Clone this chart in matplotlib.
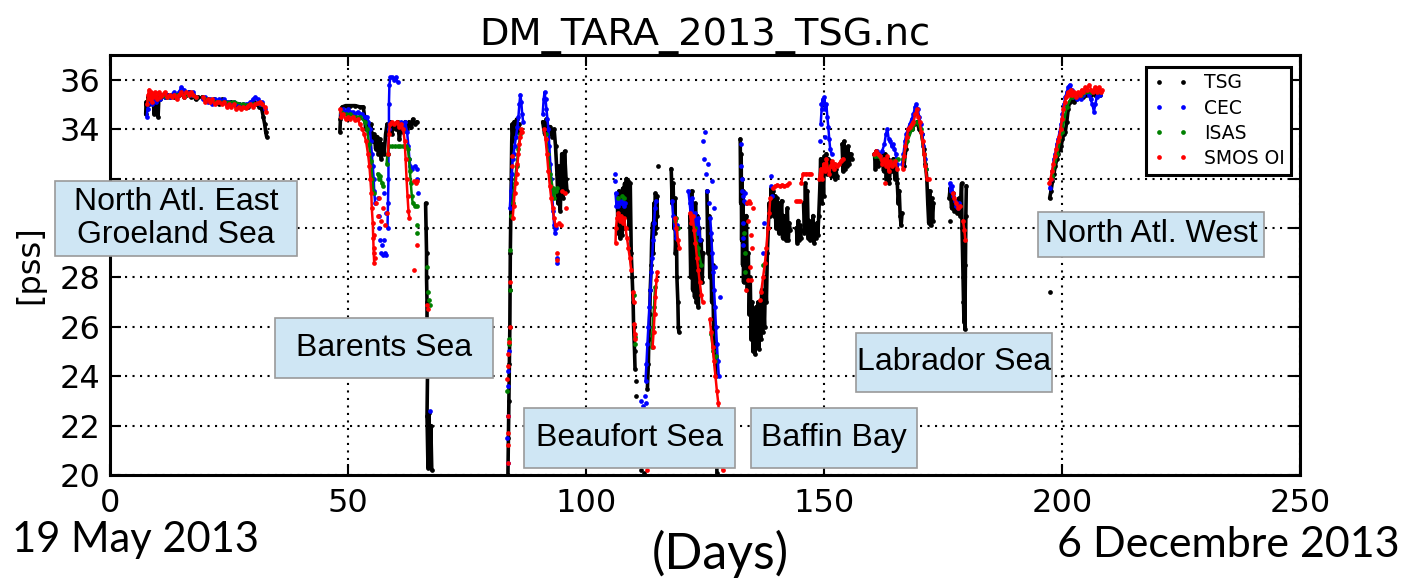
import numpy as np
import matplotlib.pyplot as plt
from matplotlib.lines import Line2D
from matplotlib.patches import Rectangle

GAP = (np.nan, np.nan)

# (day, salinity) traces along the cruise; GAP breaks a trace between legs
tsg_trace = [
    (7.5, 34.6), (7.6, 35.1), (7.8, 34.8), (8.0, 35.3), (8.2, 35.0), (8.4, 35.4), (8.7, 35.2),
    (9.0, 35.3), (9.3, 34.6), (9.5, 35.3), (9.8, 35.2), (10.1, 34.5), (10.3, 35.4), (10.6, 35.2),
    (11.0, 35.4), (11.5, 35.3), (12.0, 35.4), (12.5, 35.3), (13.0, 35.4), (13.5, 35.3), (14.0, 35.4),
    (14.5, 35.4), (15.0, 35.5), (15.5, 35.3), (16.0, 35.4), (16.5, 35.5), (17.0, 35.3), (17.5, 35.4),
    (18.0, 35.2), (18.4, 35.3), GAP,
    (19.4, 35.3), (20.0, 35.2), (20.6, 35.2), (21.2, 35.1), (21.8, 35.2), (22.4, 35.1), (23.0, 35.0),
    (23.6, 35.2), (24.2, 35.1), (24.8, 35.0), (25.4, 35.1), (26.0, 35.0), (26.6, 34.9), (27.2, 35.0),
    (27.8, 34.95), (28.4, 34.9), (29.0, 34.9), (29.6, 35.0), (30.2, 35.1), (30.8, 35.0), (31.4, 34.9),
    (31.9, 34.8), (32.2, 34.5), (32.5, 34.2), (32.7, 33.9), (32.9, 33.7), GAP,
    (48.3, 33.9), (48.4, 34.4), (48.5, 34.8), (48.8, 34.9), (49.5, 34.95), (50.5, 34.95),
    (51.5, 34.95), (52.5, 34.9), (53.2, 34.9), (53.5, 34.5), (53.7, 34.0), (54.0, 34.3),
    (54.4, 33.9), (54.8, 34.2), (55.2, 33.5), (55.5, 33.8), (55.8, 33.2), (56.1, 33.7),
    (56.4, 33.0), (56.7, 33.6), (57.0, 32.8), (57.3, 33.4), (57.6, 33.0), (57.9, 33.8),
    (58.2, 34.2), (58.5, 33.9), (58.8, 34.3), (59.2, 33.8), (59.6, 34.2), (60.0, 34.0),
    (60.4, 34.3), (60.8, 33.6), (61.2, 34.2), (61.6, 33.9), (62.0, 34.3), (62.4, 34.0),
    (62.8, 34.3), (63.2, 34.1), (63.6, 34.4), (64.0, 34.2), (64.5, 34.3), GAP,
    (66.3, 31.0), (66.4, 30.0), (66.5, 29.0), (66.5, 28.0), (66.6, 27.0), (66.6, 26.0),
    (66.7, 25.0), (66.7, 24.0), (66.6, 22.4), (66.8, 20.3), (67.0, 22.5), (67.2, 20.5),
    (67.4, 22.0), (67.6, 20.2), GAP,
    (83.6, 20.0), (83.7, 21.5), (83.8, 23.0), (83.9, 24.5), (84.0, 26.0), (84.05, 27.5),
    (84.1, 29.0), (84.2, 30.5), (84.3, 32.0), (84.4, 33.5), (84.5, 34.2), (84.7, 33.6),
    (84.9, 34.3), (85.1, 33.7), (85.4, 34.4), (85.7, 33.9), (86.0, 34.2), GAP,
    (90.9, 34.3), (91.3, 33.8), (91.7, 34.4), (92.1, 33.9), (92.5, 34.1), (92.9, 33.7),
    (93.3, 34.0), (93.6, 33.3), (93.9, 32.2), (94.1, 31.0), (94.3, 32.5), (94.6, 30.7),
    (94.9, 33.0), (95.2, 31.2), (95.5, 33.1), (95.8, 32.0), (96.0, 31.5), GAP,
    (106.6, 31.2), (106.7, 29.8), (106.9, 31.5), (107.1, 29.6), (107.3, 31.0), (107.5, 29.7),
    (107.7, 31.6), (107.9, 30.0), (108.1, 31.8), (108.3, 30.5), (108.5, 32.0), (108.7, 31.0),
    (108.9, 31.9), (109.1, 30.0), (109.3, 31.8), (109.5, 29.0), (109.7, 28.0), (109.9, 27.0),
    (110.0, 26.0), (110.2, 25.0), (110.3, 24.3), GAP,
    (112.9, 23.5), (113.1, 24.5), (113.2, 25.5), (113.4, 26.5), (113.5, 27.5), (113.7, 28.5),
    (113.8, 29.5), (114.0, 30.2), (114.1, 29.0), (114.3, 31.0), (114.4, 29.8), (114.6, 31.4),
    (114.7, 30.0), (114.9, 31.3), (115.0, 30.5), GAP,
    (117.9, 32.4), (118.1, 31.0), (118.3, 31.8), (118.5, 30.0), (118.7, 31.2), (118.8, 29.0),
    (119.0, 30.0), (119.1, 28.0), (119.3, 27.0), (119.4, 26.0), (119.5, 25.8), GAP,
    (121.8, 30.5), (122.0, 28.0), (122.2, 31.5), (122.4, 27.5), (122.6, 30.0), (122.8, 27.2),
    (123.0, 31.0), (123.2, 27.0), (123.4, 30.5), (123.6, 26.8), (123.8, 30.0), (124.0, 28.0),
    (124.2, 29.5), (124.4, 27.8), (124.6, 29.0), GAP,
    (125.4, 31.5), (125.6, 29.0), (125.8, 30.5), (126.0, 28.0), (126.2, 29.5), (126.4, 27.0),
    (126.6, 28.5), (126.8, 26.0), (127.0, 25.0), (127.2, 24.5), (127.3, 24.0), GAP,
    (127.0, 22.6), (127.2, 21.0), (127.4, 22.2), (127.5, 20.1), GAP,
    (132.4, 33.6), (132.5, 31.0), (132.6, 33.0), (132.7, 29.5), (132.8, 32.0), (132.9, 28.5),
    (133.0, 31.5), (133.1, 27.8), (133.3, 30.0), (133.5, 28.5), (133.7, 30.5), (133.9, 27.5),
    (134.1, 29.0), (134.3, 26.5), (134.5, 28.0), (134.7, 25.5), (134.9, 27.0), (135.1, 25.0),
    (135.3, 26.5), (135.5, 24.9), (135.7, 26.8), (135.9, 25.2), (136.1, 27.0), (136.3, 25.1),
    (136.5, 26.5), (136.7, 25.5), (136.9, 27.5), (137.1, 25.8), (137.3, 27.0), (137.5, 26.0),
    (137.7, 28.0), (137.9, 27.0), (138.1, 29.0), (138.3, 30.0), (138.5, 31.0), (138.7, 30.5),
    (138.9, 31.6), (139.1, 30.8), (139.3, 31.5), (139.5, 30.5), (139.7, 31.3), (139.9, 30.0),
    (140.1, 31.2), (140.3, 30.3), (140.5, 29.8), (140.7, 31.0), (140.9, 30.5), (141.1, 31.1),
    (141.3, 29.6), (141.5, 30.5), (141.7, 29.8), (141.9, 30.0), (142.1, 29.5), (142.3, 30.8),
    (142.5, 29.5), (142.7, 30.2), (142.9, 29.9), GAP,
    (144.2, 30.0), (144.4, 29.4), (144.6, 30.3), (144.8, 29.5), (145.0, 30.1), (145.2, 29.6), GAP,
    (145.7, 31.0), (145.9, 29.8), (146.1, 31.8), (146.3, 30.2), (146.5, 31.5), (146.7, 29.6),
    (146.9, 30.3), (147.1, 29.5), (147.3, 30.0), (147.5, 29.8), (147.7, 30.5), (147.9, 29.4),
    (148.1, 29.8), (148.3, 29.6), (148.5, 30.2), (148.7, 29.7), (148.9, 30.5), (149.1, 31.5),
    (149.3, 32.8), (149.5, 31.0), (149.7, 32.5), (149.9, 31.3), (150.1, 32.9), (150.3, 32.4),
    (150.5, 33.0), (150.7, 32.2), (150.9, 32.8), (151.1, 32.3), (151.3, 32.7), (151.5, 32.1),
    (151.7, 32.6), (151.9, 32.2), (152.1, 32.5), (152.3, 32.0), (152.5, 32.4), (152.7, 32.1), GAP,
    (153.8, 33.4), (154.0, 32.3), (154.2, 33.5), (154.4, 32.4), (154.6, 33.2), (154.8, 32.5),
    (155.0, 33.3), (155.3, 32.6), (155.6, 33.0), (155.9, 32.8), GAP,
    (160.6, 33.0), (160.8, 32.4), (161.0, 33.1), (161.3, 32.5), (161.6, 33.0), (161.9, 32.6),
    (162.2, 33.0), (162.5, 32.3), (162.8, 33.0), (163.1, 32.0), (163.4, 32.8), (163.7, 31.8),
    (164.0, 32.6), (164.3, 32.3), (164.6, 32.8), (164.9, 32.0), (165.2, 32.5), (165.4, 31.8),
    (165.6, 31.0), (165.8, 31.5), (166.0, 30.5), (166.2, 30.1), (166.4, 30.6), GAP,
    (166.8, 32.5), (167.2, 33.2), (167.6, 33.8), (168.0, 34.0), (168.5, 34.0), (169.0, 34.2),
    (169.5, 34.3), (170.0, 34.0), (170.5, 33.8), (171.0, 33.2), (171.3, 32.6), (171.6, 32.0),
    (171.8, 31.0), (172.0, 30.2), (172.2, 31.5), (172.4, 30.1), (172.6, 31.2), (172.8, 30.3),
    (173.0, 31.0), GAP,
    (176.3, 31.2), (176.5, 31.6), (176.8, 30.8), (177.1, 31.4), (177.4, 30.7), (177.7, 31.1),
    (178.0, 30.6), (178.3, 31.2), (178.6, 30.5), (178.9, 31.8), (179.0, 30.0), (179.1, 29.0),
    (179.2, 28.0), (179.3, 27.0), (179.4, 26.2), (179.5, 27.5), (179.6, 25.9), (179.7, 28.5),
    (179.8, 30.5), (179.9, 31.7), GAP,
    (197.4, 31.2), (197.7, 31.5), (198.0, 31.9), (198.3, 32.2), (198.6, 32.5), (198.9, 32.8),
    (199.2, 33.0), (199.5, 33.2), (199.8, 33.3), (200.1, 33.6), (200.4, 33.8), (200.7, 33.9),
    (201.0, 34.3), (201.3, 34.8), (201.6, 35.1), (202.0, 35.2), (202.5, 35.1), (203.0, 35.2),
    (203.5, 35.3), (204.0, 35.3), (204.5, 35.3), (205.0, 35.4), (205.5, 35.5), (206.0, 35.4),
    (206.5, 35.5), (207.0, 35.4), (207.5, 35.5), (208.0, 35.4),
]
tsg_dots = [
    (110.4, 23.8), (110.5, 23.2), (110.6, 22.6), (110.7, 22.0), (110.8, 21.4), (110.9, 20.5),
    (111.5, 20.2), (112.2, 20.1), (115.2, 32.5), (176.5, 30.3), (197.4, 27.4),
]

cec_trace = [
    (7.7, 34.5), (7.9, 34.8), (8.1, 35.1), (8.4, 35.3), (8.8, 35.0), (9.2, 35.3), (9.6, 35.1),
    (10.0, 35.3), (10.5, 35.2), (11.0, 35.4), (11.5, 35.3), (12.0, 35.4), (12.5, 35.3),
    (13.0, 35.4), (13.5, 35.5), (14.0, 35.3), (14.5, 35.5), (15.0, 35.7), (15.5, 35.6),
    (16.0, 35.4), (16.5, 35.5), (17.0, 35.4), (17.5, 35.5), (18.0, 35.3), GAP,
    (19.5, 35.2), (20.0, 35.3), (20.5, 35.1), (21.0, 35.2), (21.5, 35.0), (22.0, 35.2),
    (22.5, 35.1), (23.0, 35.2), (23.5, 35.1), (24.0, 35.2), (24.5, 35.1), (25.0, 35.1),
    (25.5, 35.0), (26.0, 35.1), (26.5, 35.0), (27.0, 35.0), (27.5, 34.9), (28.0, 35.0),
    (28.5, 35.0), (29.0, 35.0), (29.5, 35.1), (30.0, 35.2), (30.5, 35.3), (31.0, 35.2),
    (31.5, 35.0), (32.0, 35.1), (32.5, 34.8), GAP,
    (48.5, 34.6), (49.0, 34.8), (49.5, 34.7), (50.0, 34.8), (50.5, 34.7), (51.0, 34.7),
    (51.5, 34.6), (52.0, 34.7), (52.5, 34.6), (53.0, 34.6), (53.5, 34.5), (54.0, 34.5),
    (54.3, 34.3), (54.6, 34.0), (54.8, 33.5), (55.0, 33.0), (55.2, 32.5), (55.4, 32.0),
    (55.5, 31.5), (55.7, 31.0), GAP,
    (58.3, 30.0), (58.4, 31.0), (58.5, 32.0), (58.5, 33.0), (58.6, 34.0), (58.6, 35.0),
    (58.7, 35.8), (58.9, 36.1), (59.3, 36.1), (59.7, 36.0), (60.1, 36.1), (60.4, 35.9), GAP,
    (61.2, 34.3), (61.6, 34.1), (62.0, 34.3), (62.4, 33.9), (62.7, 33.3), (62.9, 32.8),
    (63.1, 32.5), (63.5, 32.4), (64.0, 32.5), (64.4, 32.4), GAP,
    (84.0, 30.8), (84.2, 31.5), (84.4, 32.2), (84.6, 32.8), (84.8, 33.0), (85.0, 33.3),
    (85.3, 33.7), (85.6, 34.1), (85.8, 34.5), (86.0, 35.0), (86.2, 35.4), (86.4, 35.1),
    (86.6, 34.6), (86.8, 34.3), GAP,
    (90.9, 34.6), (91.1, 35.2), (91.3, 35.5), (91.5, 35.2), (91.7, 34.8), (91.9, 34.4),
    (92.1, 34.0), (92.3, 33.3), (92.5, 32.6), (92.7, 32.0), (92.9, 31.3), (93.1, 30.7),
    (93.3, 30.1), (93.5, 29.8), (93.7, 30.0), GAP,
    (106.2, 31.4), (106.4, 30.9), (106.6, 31.2), (106.8, 30.9), (107.0, 31.1), (107.3, 31.0),
    (107.6, 31.1), (107.9, 30.9), (108.2, 31.0), GAP,
    (112.5, 23.8), (112.7, 24.5), (112.9, 25.3), (113.1, 26.0), (113.3, 26.8), (113.5, 27.5),
    (113.7, 28.2), (113.9, 28.8), (114.1, 29.5), (114.3, 30.2), (114.5, 30.8), (114.7, 31.1), GAP,
    (118.1, 31.1), (118.3, 30.5), (118.6, 30.0), (118.9, 29.6), (119.2, 30.1), GAP,
    (121.5, 31.5), (121.8, 31.0), (122.0, 30.5), (122.3, 31.2), (122.6, 30.2), (123.0, 30.6),
    (123.3, 29.8), (123.6, 30.4), (124.0, 29.5), GAP,
    (126.1, 30.4), (126.3, 29.8), (126.5, 29.0), (126.7, 28.2), (126.9, 27.5), (127.1, 26.8),
    (127.3, 26.0), (127.5, 25.3), (127.7, 24.6), (127.9, 24.0), GAP,
    (149.3, 34.2), (149.5, 34.8), (149.7, 35.2), (149.9, 35.0), (150.1, 35.3), (150.3, 34.8),
    (150.5, 35.0), (150.7, 34.5), (150.9, 34.1), (151.1, 33.6), (151.3, 33.2), (151.6, 33.0), GAP,
    (160.7, 33.0), (161.2, 33.1), (161.7, 32.9), (162.2, 33.1), (162.7, 33.4), (163.0, 33.8),
    (163.3, 34.0), (163.6, 33.6), (163.9, 33.5), (164.2, 33.3), (164.5, 33.4), (164.8, 33.2),
    (165.1, 33.0), (165.3, 32.6), GAP,
    (166.4, 32.6), (166.7, 33.0), (167.0, 33.5), (167.3, 33.8), (167.6, 34.0), (168.0, 34.2),
    (168.4, 34.4), (168.8, 34.6), (169.1, 34.9), (169.4, 35.0), (169.7, 34.8), (170.0, 34.5),
    (170.3, 34.2), (170.6, 33.8), (170.9, 33.3), (171.2, 32.8), (171.5, 32.4), GAP,
    (176.4, 31.8), (176.6, 31.5), (176.9, 31.7), (177.2, 31.3), (177.5, 31.1), (177.8, 30.9),
    (178.1, 30.8), (178.3, 31.0), GAP,
    (197.4, 31.6), (197.7, 32.0), (198.0, 32.3), (198.3, 32.8), (198.6, 33.0), (198.9, 33.4),
    (199.2, 33.6), (199.5, 33.9), (199.8, 34.2), (200.1, 34.6), (200.4, 35.0), (200.7, 35.3),
    (201.0, 35.5), (201.3, 35.7), (201.6, 35.8), (202.0, 35.6), (202.4, 35.3), (202.8, 35.4),
    (203.2, 35.2), (203.6, 35.3), (204.0, 35.2), (204.4, 35.4), (204.8, 35.5), (205.2, 35.6),
    (205.6, 35.4), (206.0, 35.2), (206.4, 35.0), (206.7, 34.7), (207.0, 35.0), (207.3, 35.3),
    (207.6, 35.6), (208.0, 35.4),
]
cec_dots = [
    (56.3, 31.2), (56.5, 30.5), (56.6, 30.0), (56.8, 29.5), (56.9, 29.0), (57.1, 29.3),
    (57.3, 28.9), (57.5, 29.5), (57.7, 29.0), (57.9, 28.9), (57.6, 31.4), (57.9, 30.6),
    (64.6, 32.0), (64.7, 31.4), (67.3, 22.6),
    (83.8, 25.0), (83.7, 24.2), (83.6, 23.6), (83.6, 22.4), (83.5, 21.5), (83.6, 20.5),
    (94.0, 28.8), (94.0, 28.6), (106.1, 32.2), (106.1, 31.9),
    (111.6, 23.0), (112.0, 22.8), (112.4, 23.2), (112.6, 22.9),
    (124.5, 33.5), (124.8, 32.8), (125.0, 33.9), (125.2, 32.2), (125.5, 31.5), (125.7, 32.6),
    (125.9, 31.0), (126.4, 31.9), (126.8, 30.8), (127.2, 28.4), (128.2, 27.2),
    (132.6, 33.4), (132.6, 32.5), (132.7, 32.0), (132.8, 31.5), (133.0, 31.3), (133.2, 31.1),
    (133.5, 31.4), (133.7, 31.0), (132.9, 30.2), (132.9, 29.6), (133.0, 29.3),
    (137.4, 30.2), (137.2, 29.0), (138.8, 32.1), (138.9, 31.7), (139.0, 31.3),
    (149.2, 33.5), (149.4, 35.0), (150.2, 33.7),
]

isas_trace = [
    (8.0, 35.2), (10.0, 35.3), (12.0, 35.3), (14.0, 35.4), (16.0, 35.4), (18.0, 35.3), GAP,
    (20.0, 35.2), (22.0, 35.1), (24.0, 35.1), (26.0, 35.1), (28.0, 35.0), (30.0, 35.0),
    (32.0, 35.0), GAP,
    (48.5, 34.7), (49.5, 34.6), (50.5, 34.6), (51.5, 34.5), (52.5, 34.5), (53.5, 34.3),
    (54.0, 34.0), (54.4, 33.4), (54.8, 32.7), (55.1, 32.0), (55.4, 31.4), GAP,
    (56.2, 32.2), (56.5, 32.0), (56.8, 32.1), (57.1, 31.8), (57.4, 31.7), GAP,
    (58.1, 32.6), (58.3, 33.0), (58.6, 33.3), (59.2, 33.3), (59.8, 33.3), (60.4, 33.3),
    (61.0, 33.3), (61.6, 33.3), (62.2, 33.3), (62.6, 33.2), (62.8, 32.8), (63.0, 32.3),
    (63.2, 31.8), (63.4, 31.3), (63.6, 31.0), (64.0, 30.9), (64.4, 30.9), GAP,
    (84.6, 31.0), (85.0, 31.8), (85.4, 32.5), (85.8, 33.2), (86.2, 33.8), GAP,
    (91.5, 33.8), (92.0, 33.0), (92.5, 32.2), (93.0, 31.6), (93.3, 31.2), (93.6, 31.5),
    (94.0, 31.6), GAP,
    (113.8, 25.2), (114.0, 26.0), (114.3, 26.8), (114.5, 27.6), GAP,
    (122.0, 30.5), (122.8, 30.0), (123.5, 29.2), (124.2, 28.5), GAP,
    (126.3, 25.7), (126.7, 25.0), (127.0, 24.6), (127.3, 24.8), GAP,
    (160.8, 32.9), (162.0, 32.8), (163.5, 32.6), (164.5, 32.7), (165.5, 32.8), GAP,
    (166.6, 32.8), (167.5, 33.5), (168.5, 34.0), (169.5, 34.3), (170.3, 34.0), (171.0, 33.0),
    (171.5, 32.4), GAP,
    (198.0, 32.1), (199.0, 33.0), (200.0, 33.9), (201.0, 34.9), (202.0, 35.3), (204.0, 35.4),
    (206.0, 35.5), (208.0, 35.5),
]
isas_dots = [
    (64.4, 30.1), (64.6, 29.8), (66.6, 28.4), (66.8, 27.4), (67.0, 27.1), (67.3, 26.9),
    (83.5, 23.4), (83.8, 25.5), (83.9, 25.3), (84.0, 27.5), (84.1, 29.1), (84.3, 30.5),
    (106.8, 31.2), (107.5, 31.3), (108.0, 31.2), (110.1, 27.3), (110.3, 25.6), (110.3, 25.3),
    (118.6, 30.3), (119.0, 30.4), (119.4, 30.0),
    (133.2, 29.8), (133.5, 29.0), (133.3, 28.2), (137.2, 28.5),
    (150.6, 32.4), (151.3, 32.5), (152.0, 32.6),
]

smos_trace = [
    (7.8, 35.0), (8.0, 35.4), (8.2, 35.6), (8.4, 35.2), (8.6, 35.5), (8.8, 35.1), (9.0, 35.3),
    (9.4, 35.5), (9.8, 35.2), (10.2, 35.5), (10.6, 35.3), (11.0, 35.4), (11.5, 35.5),
    (12.0, 35.3), (12.5, 35.4), (13.0, 35.3), (13.5, 35.4), (14.0, 35.2), (14.5, 35.4),
    (15.0, 35.5), (15.5, 35.3), (16.0, 35.5), (16.5, 35.4), (17.0, 35.5), (17.5, 35.4),
    (18.0, 35.3), GAP,
    (19.5, 35.3), (20.0, 35.1), (20.5, 35.2), (21.0, 35.1), (21.5, 35.2), (22.0, 35.0),
    (22.5, 35.1), (23.0, 35.1), (23.5, 35.0), (24.0, 35.1), (24.5, 34.9), (25.0, 35.0),
    (25.5, 34.9), (26.0, 35.0), (26.5, 34.8), (27.0, 34.9), (27.5, 34.8), (28.0, 34.9),
    (28.5, 34.85), (29.0, 34.95), (29.5, 35.0), (30.0, 34.9), (30.5, 35.0), (31.0, 35.05),
    (31.5, 35.1), (32.0, 35.0), (32.5, 34.9), (32.8, 34.7), GAP,
    (48.3, 34.8), (48.6, 34.5), (49.0, 34.6), (49.5, 34.4), (50.0, 34.5), (50.5, 34.4),
    (51.0, 34.5), (51.5, 34.35), (52.0, 34.4), (52.5, 34.2), (53.0, 34.0), (53.4, 33.8),
    (53.8, 33.5), (54.2, 33.0), (54.5, 32.5), (54.7, 32.0), (54.9, 31.4), (55.0, 30.8),
    (55.2, 30.2), (55.3, 29.6), (55.4, 29.0), (55.5, 28.6), GAP,
    (58.4, 33.0), (58.6, 33.8), (58.8, 34.2), (59.2, 34.3), (59.7, 34.2), (60.2, 34.3),
    (60.7, 34.1), (61.2, 34.2), (61.6, 34.0), (61.9, 33.5), (62.1, 32.8), (62.3, 32.0),
    (62.5, 31.3), (62.7, 30.7), (62.9, 30.4), GAP,
    (84.6, 30.4), (84.8, 30.9), (85.0, 31.4), (85.2, 31.8), (85.4, 32.2), (85.6, 32.6),
    (85.8, 33.0), (86.0, 33.4), (86.2, 33.7), (86.4, 34.0), (86.6, 33.9), GAP,
    (91.2, 34.0), (91.5, 33.6), (91.8, 33.0), (92.1, 32.3), (92.4, 31.7), (92.7, 31.2),
    (93.0, 30.8), (93.3, 30.4), (93.6, 30.1), GAP,
    (106.2, 29.4), (106.3, 30.0), (106.5, 30.4), (106.8, 30.6), (107.1, 30.3), (107.4, 30.5),
    (107.7, 30.2), (108.0, 30.4), (108.3, 30.0), (108.6, 29.6), (108.9, 29.2), (109.2, 28.8),
    (109.5, 28.3), GAP,
    (109.8, 27.4), (110.0, 27.0), GAP,
    (110.1, 26.1), (110.2, 25.7), (110.3, 25.5), GAP,
    (114.0, 25.2), (114.2, 25.8), (114.4, 26.5), (114.6, 27.2), (114.8, 27.9), (115.0, 28.2), GAP,
    (118.7, 30.4), (119.0, 30.0), (119.3, 29.5), (119.6, 29.2), GAP,
    (121.8, 30.6), (122.1, 30.2), (122.4, 30.5), (122.7, 29.9), (123.0, 29.4), (123.3, 28.8),
    (123.6, 28.3), (123.9, 27.8), (124.2, 27.3), (124.5, 27.0), GAP,
    (126.0, 26.3), (126.3, 25.8), (126.6, 25.2), (126.9, 24.6), (127.2, 24.0), (127.5, 23.4),
    (127.8, 22.9), (128.0, 22.3), (128.2, 21.7), (128.4, 21.2), (128.6, 20.6), (128.7, 20.2), GAP,
    (136.8, 27.4), (137.2, 28.0), (137.6, 28.6), (137.9, 29.2), (138.2, 30.0), (138.5, 30.6),
    (138.7, 31.2), GAP,
    (139.2, 31.6), (139.7, 31.7), (140.2, 31.75), (140.7, 31.7), (141.2, 31.75), (141.7, 31.7),
    (142.2, 31.75), (142.7, 31.8), GAP,
    (145.2, 31.8), (145.6, 32.2), (146.2, 32.2), (146.8, 32.2), (147.3, 32.2), GAP,
    (149.0, 32.0), (149.3, 32.4), (149.6, 32.0), (149.9, 32.6), (150.2, 32.3), (150.5, 32.8),
    (150.8, 32.4), (151.1, 32.2), (151.4, 32.5), (151.7, 32.7), (152.0, 32.4), (152.3, 32.6),
    (152.7, 32.5), (153.1, 32.6), (153.5, 32.7), (153.9, 32.8), GAP,
    (160.6, 33.0), (161.0, 33.1), (161.4, 33.0), (161.8, 32.9), (162.2, 32.6), (162.6, 32.8),
    (163.0, 32.5), (163.3, 32.9), (163.6, 32.3), (163.9, 32.7), (164.2, 32.5), (164.6, 32.6),
    (165.0, 32.7), (165.3, 32.4), GAP,
    (166.5, 32.4), (166.8, 32.9), (167.1, 33.3), (167.4, 33.7), (167.7, 34.0), (168.0, 34.1),
    (168.4, 34.2), (168.8, 34.3), (169.2, 34.6), (169.5, 34.8), (169.8, 34.5), (170.1, 34.3),
    (170.4, 33.9), (170.7, 33.5), (171.0, 33.0), (171.3, 32.5), (171.6, 32.0), GAP,
    (177.0, 31.4), (177.4, 31.2), (177.8, 31.0), (178.2, 30.8), (178.6, 30.9), GAP,
    (179.2, 30.3), (179.5, 29.9), (179.7, 29.5), GAP,
    (197.3, 31.8), (197.6, 32.0), (197.9, 32.3), (198.2, 32.6), (198.5, 32.9), (198.8, 33.2),
    (199.1, 33.5), (199.4, 33.7), (199.7, 34.0), (200.0, 34.4), (200.3, 34.8), (200.6, 35.1),
    (200.9, 35.3), (201.2, 35.5), (201.5, 35.4), (201.8, 35.6), (202.1, 35.4), (202.5, 35.5),
    (202.9, 35.3), (203.3, 35.5), (203.7, 35.4), (204.1, 35.6), (204.5, 35.5), (204.9, 35.7),
    (205.3, 35.6), (205.7, 35.8), (206.1, 35.6), (206.5, 35.5), (206.9, 35.7), (207.3, 35.5),
    (207.7, 35.7), (208.1, 35.5), (208.4, 35.6),
]
smos_dots = [
    (55.8, 31.0), (56.2, 30.5), (56.6, 31.2), (57.0, 30.3), (57.4, 30.8), (57.8, 30.1),
    (58.2, 30.6), (55.4, 29.7), (55.5, 29.2), (55.6, 28.8),
    (63.8, 31.9), (64.2, 31.8), (64.6, 31.9), (64.4, 29.3), (63.9, 28.3), (66.5, 26.9), (66.8, 26.7),
    (84.4, 32.9), (84.5, 32.5), (84.1, 27.8), (84.0, 26.0), (83.9, 25.4), (83.7, 24.9),
    (83.6, 24.4), (83.5, 23.9), (83.7, 22.4), (83.6, 21.7), (83.6, 21.2), (83.7, 20.5),
    (94.3, 30.2), (94.8, 30.1), (95.0, 31.5), (95.5, 31.4), (95.9, 30.8), (93.9, 29.0), (94.0, 28.7),
    (112.9, 20.2),
    (133.8, 31.0), (134.2, 31.1), (134.5, 31.0), (135.0, 30.8), (134.0, 30.3), (134.6, 29.7),
    (134.9, 29.2), (134.4, 28.4), (134.7, 27.9), (133.6, 27.5), (134.0, 27.9), (136.5, 27.1),
    (144.2, 31.1), (144.6, 31.1), (145.0, 31.1),
    (162.8, 31.8), (172.1, 32.0),
]

series_names = ["TSG", "CEC", "ISAS", "SMOS OI"]
series_colors = ["black", "blue", "green", "red"]
series_traces = [tsg_trace, cec_trace, isas_trace, smos_trace]
series_dots = [tsg_dots, cec_dots, isas_dots, smos_dots]

region_names = [
    "North Atl. East\nGroeland Sea", "Barents Sea", "Beaufort Sea",
    "Baffin Bay", "Labrador Sea", "North Atl. West",
]
# label boxes in figure pixels: left, top, right, bottom
region_boxes = [
    (55, 181, 297, 256), (275, 318, 493, 378), (524, 408, 735, 468),
    (751, 408, 917, 468), (856, 333, 1052, 392), (1038, 212, 1264, 257),
]

W, H = 1406, 579
fig = plt.figure(figsize=(W / 100, H / 100), dpi=100)
ax = fig.add_axes([110 / W, (H - 475) / H, 1190 / W, 420 / H])

for name, color, trace, dots in zip(series_names, series_colors, series_traces, series_dots):
    t = np.array(trace, dtype=float)
    d = np.array(dots, dtype=float)
    lw = 2.6 if color == "black" else 1.8
    ax.plot(t[:, 0], t[:, 1], "-", color=color, lw=lw, solid_capstyle="round")
    ax.plot(t[:, 0], t[:, 1], "o", color=color, ms=3.4, mew=0)
    ax.plot(d[:, 0], d[:, 1], "o", color=color, ms=3.4, mew=0)

ax.set_xlim(0, 250)
ax.set_ylim(20, 37)
ax.set_xticks(np.arange(0, 251, 50))
ax.set_yticks(np.arange(20, 37, 2))
ax.grid(True, color="black", linestyle=(0, (1, 2.6)), linewidth=1.5)
ax.tick_params(direction="in", length=8, width=1.5, labelsize=23, top=True, right=True)
ax.tick_params(axis="x", pad=9)
ax.tick_params(axis="y", pad=7)
for sp in ax.spines.values():
    sp.set_linewidth(2.2)

# the 30 and 32 labels sit under the North Atl. East box
fig.canvas.draw()
for lab in ax.get_yticklabels():
    if lab.get_text() in ("30", "32"):
        lab.set_visible(False)

ax.set_title("DM_TARA_2013_TSG.nc", fontsize=27.6, pad=7)
ax.set_ylabel("[pss]", fontsize=23, labelpad=10)

handles = [Line2D([], [], marker="o", ls="none", color=c, ms=3.4, mew=0) for c in series_colors]
leg = ax.legend(handles, series_names, loc="upper right", bbox_to_anchor=(0.9924, 0.9716),
                borderaxespad=0, numpoints=2, fontsize=13.5, labelspacing=0.33, borderpad=0.35,
                handlelength=1.9, handletextpad=0.8, fancybox=False, framealpha=1)
leg.get_frame().set_edgecolor("black")
leg.get_frame().set_linewidth(2.2)

for name, (x0, y0, x1, y1) in zip(region_names, region_boxes):
    fig.add_artist(Rectangle((x0 / W, 1 - y1 / H), (x1 - x0) / W, (y1 - y0) / H,
                             transform=fig.transFigure, facecolor="#cfe6f4",
                             edgecolor="#9a9a9a", linewidth=1.2))
    fig.text((x0 + x1) / 2 / W, 1 - (y0 + y1) / 2 / H, name, ha="center", va="center",
             fontsize=23, family="Liberation Sans", linespacing=1.1)

fig.text(12 / W, 1 - 552 / H, "19 May 2013", fontsize=30, family="Lato", ha="left", va="baseline")
fig.text(720 / W, 1 - 554 / H, "(Days)", fontsize=36, family="Lato", ha="center", va="center")
fig.text(1400 / W, 1 - 557 / H, "6 Decembre 2013", fontsize=31, family="Lato",
         ha="right", va="baseline")

fig.savefig("out.png", dpi=100)
